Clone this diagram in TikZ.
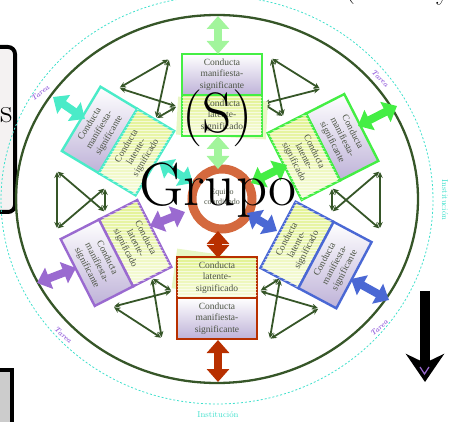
\documentclass[tikz,border=0pt]{standalone}
\usepackage{fontspec}
\newfontfamily\cellfont{Liberation Serif}
\usetikzlibrary{arrows.meta,calc,patterns}
\definecolor{dg}{HTML}{365628}
\definecolor{turq}{HTML}{40E0CC}
\definecolor{tareac}{HTML}{9966DD}
\definecolor{grnb}{HTML}{44EE44}
\definecolor{lgrn}{HTML}{A2F59C}
\definecolor{tqb}{HTML}{4AEBC8}
\definecolor{blu}{HTML}{4A68D4}
\definecolor{pur}{HTML}{9A6AD0}
\definecolor{redb}{HTML}{B83000}
\definecolor{orng}{HTML}{D4693E}
\definecolor{lav}{HTML}{BEB2D8}
\definecolor{ylw}{HTML}{E2F290}
\definecolor{ylw2}{HTML}{F6FBDC}
\definecolor{txtc}{HTML}{4D5545}
\definecolor{shad}{HTML}{E8F7C4}
\definecolor{lgray}{HTML}{F4F2F2}
\definecolor{mgray}{HTML}{CCCCCC}
\tikzset{
  cellbase/.style={draw=#1, line width=2.4pt, transform shape, align=center, text=txtc,
    font=\cellfont\fontsize{9.5}{11.3}\selectfont, inner sep=0pt},
  cellm/.style={cellbase=#1, top color=white, bottom color=lav},
  celll/.style={cellbase=#1, top color=ylw, bottom color=ylw2,
    postaction={pattern=horizontal lines, pattern color=white, opacity=0.6}},
  tarr/.style={draw=dg, line width=1.8pt, shorten <=1pt, shorten >=1pt,
    {Stealth[length=6pt,width=5.5pt]}-{Stealth[length=6pt,width=5.5pt]}},
  fatarr/.style={draw=#1, line width=8pt,
    {Triangle[length=13pt,width=22pt]}-{Triangle[length=13pt,width=22pt]}},
  tarea/.style={text=tareac, font=\fontsize{7.5}{8}\selectfont\bfseries\itshape, inner sep=0pt},
  inst/.style={text=turq, font=\fontsize{8.5}{9}\selectfont, inner sep=0pt},
}
\newcommand{\gapx}[4]{%
  \begin{scope}[shift={(217,200)}, rotate=#2]
    \coordinate (#1o1) at (#3,-29); \coordinate (#1o2) at (#3,29);
    \coordinate (#1i1) at (#4,-12); \coordinate (#1i2) at (#4,12);
  \end{scope}
  \draw[tarr] (#1o1) -- (#1o2);
  \draw[tarr] (#1i1) -- (#1i2);
  \draw[tarr] (#1o1) -- (#1i2);
  \draw[tarr] (#1o2) -- (#1i1);
}
\begin{document}
\begin{tikzpicture}[x=1pt,y=-1pt]
\useasboundingbox (0,0) rectangle (450,422);
% side boxes (cut by the border)
\draw[line width=4pt, fill=lgray, rounded corners=7pt] (-40,47) rectangle (15,212);
\node[anchor=base east, inner sep=0pt, font=\fontsize{34}{34}\selectfont] (sfrag) at (12.5,123) {s};
\draw[line width=4pt, fill=mgray] (-40,370) rectangle (12,450);
% cut title fragments
\node[anchor=base, inner sep=0pt, font=\fontsize{28}{28}\selectfont] (tf1) at (350,-2.5) {(};
\node[anchor=base, inner sep=0pt, font=\fontsize{28}{28}\selectfont] (tf2) at (443,-0.5) {y};
% ellipses
\draw[turq, line width=0.8pt, dash pattern=on 2pt off 2pt] (217,200) ellipse [x radius=216, y radius=204];
\draw[dg, line width=2.3pt] (217,199) ellipse [x radius=201, y radius=184];
% labels
\node[tarea, rotate=39] (ta1) at (40,93) {Tarea};
\node[tarea, rotate=-45] (ta2) at (380,78) {Tarea};
\node[tarea, rotate=-42] (ta3) at (63,335) {Tarea};
\node[tarea, rotate=42] (ta4) at (379,328) {Tarea};
\node[inst] (in1) at (218,415) {Institución};
\node[inst, rotate=-90] (in2) at (445,200) {Institución};
% thin arrows between boxes
\gapx{ga}{0}{163}{115}
\gapx{gb}{58}{149}{106}
\gapx{gc}{120}{146}{101}
\gapx{gd}{180}{160}{112}
\gapx{ge}{237}{146}{101}
\gapx{gf}{302}{146}{100}
% shadows
\node[fill=shad, minimum width=90pt, minimum height=38pt, rotate=-3] (sh1) at (222,118) {};
\node[fill=shad, minimum width=80pt, minimum height=40pt, rotate=-8] (sh2) at (214,274) {};
% ring
\draw[orng, line width=9pt] (222,199) circle (30);
\node[text=txtc, align=center, font=\cellfont\fontsize{8}{10}\selectfont] (eq) at (222,197) {Equipo\\coordinado};
% boxes
\begin{scope}[shift={(222,95)}]
  \node[cellm=grnb, minimum width=80pt, minimum height=41pt] (tm) at (0,-20.5) {Conducta\\manifiesta-\\significante};
  \node[celll=grnb, minimum width=80pt, minimum height=41pt] (tl) at (0,20.5) {Conducta\\latente-\\significado};
\end{scope}
\begin{scope}[shift={(118,141)}, rotate=59]
  \node[cellm=tqb, minimum width=75pt, minimum height=43pt] (ulm) at (0,-21.5) {Conducta\\manifiesta-\\significante};
  \node[celll=tqb, minimum width=75pt, minimum height=43pt] (ull) at (0,21.5) {Conducta\\latente-\\significado};
\end{scope}
\begin{scope}[shift={(323,147)}, rotate=-63]
  \node[cellm=grnb, minimum width=75pt, minimum height=43pt] (urm) at (0,-21.5) {Conducta\\manifiesta-\\significante};
  \node[celll=grnb, minimum width=75pt, minimum height=43pt] (url) at (0,21.5) {Conducta\\latente-\\significado};
\end{scope}
\begin{scope}[shift={(217,298)}]
  \node[celll=redb, minimum width=80pt, minimum height=41pt] (bl) at (0,-20.5) {Conducta\\latente-\\significado};
  \node[cellm=redb, minimum width=80pt, minimum height=41pt] (bm) at (0,20.5) {Conducta\\manifiesta-\\significante};
\end{scope}
\begin{scope}[shift={(316,255)}, rotate=62]
  \node[celll=blu, minimum width=75pt, minimum height=43pt] (lrl) at (0,-21.5) {Conducta\\latente-\\significado};
  \node[cellm=blu, minimum width=75pt, minimum height=43pt] (lrm) at (0,21.5) {Conducta\\manifiesta-\\significante};
\end{scope}
\begin{scope}[shift={(116,253)}, rotate=-63]
  \node[celll=pur, minimum width=75pt, minimum height=43pt] (lll) at (0,-21.5) {Conducta\\latente-\\significado};
  \node[cellm=pur, minimum width=75pt, minimum height=43pt] (llm) at (0,21.5) {Conducta\\manifiesta-\\significante};
\end{scope}
% fat arrow end points
\coordinate (e1) at (218,16);  \coordinate (e2) at (218,54);
\coordinate (e3) at (218,136); \coordinate (e4) at (218,169);
\coordinate (e5) at (218,231); \coordinate (e6) at (218,258);
\coordinate (e7) at (218,340); \coordinate (e8) at (218,382);
\coordinate (f1) at (53,97);   \coordinate (f2) at (85,119);
\coordinate (f3) at (159,162); \coordinate (f4) at (193,183);
\coordinate (g1) at (397,106); \coordinate (g2) at (358,126);
\coordinate (g3) at (287,165); \coordinate (g4) at (251,183);
\coordinate (h1) at (247,213); \coordinate (h2) at (277,231);
\coordinate (h3) at (351,279); \coordinate (h4) at (389,300);
\coordinate (k1) at (185,212); \coordinate (k2) at (150,226);
\coordinate (k3) at (76,268);  \coordinate (k4) at (37,283);
\draw[fatarr=lgrn] (e1) -- (e2);
\draw[fatarr=lgrn] (e3) -- (e4);
\draw[fatarr=redb] (e5) -- (e6);
\draw[fatarr=redb] (e7) -- (e8);
\draw[fatarr=tqb] (f1) -- (f2);
\draw[fatarr=tqb] (f3) -- (f4);
\draw[fatarr=grnb] (g1) -- (g2);
\draw[fatarr=grnb] (g3) -- (g4);
\draw[fatarr=blu] (h1) -- (h2);
\draw[fatarr=blu] (h3) -- (h4);
\draw[fatarr=pur] (k1) -- (k2);
\draw[fatarr=pur] (k3) -- (k4);
% big texts
\node[inner sep=0pt, font=\fontsize{57}{57}\selectfont] (S) at (217.5,118) {(S)};
\node[inner sep=0pt, anchor=base, font=\fontsize{61}{61}\selectfont] (grupo) at (218,206) {Grupo};
% black arrow
\coordinate (ba1) at (425,291); \coordinate (ba2) at (425,382);
\draw[line width=10pt, -{Stealth[length=28pt,width=38pt,inset=9pt]}] (ba1) -- (ba2);
\coordinate (pv1) at (420,367); \coordinate (pv2) at (424.5,374); \coordinate (pv3) at (429,367);
\draw[pur, line width=1.2pt] (pv1) -- (pv2) -- (pv3);
\end{tikzpicture}
\end{document}
